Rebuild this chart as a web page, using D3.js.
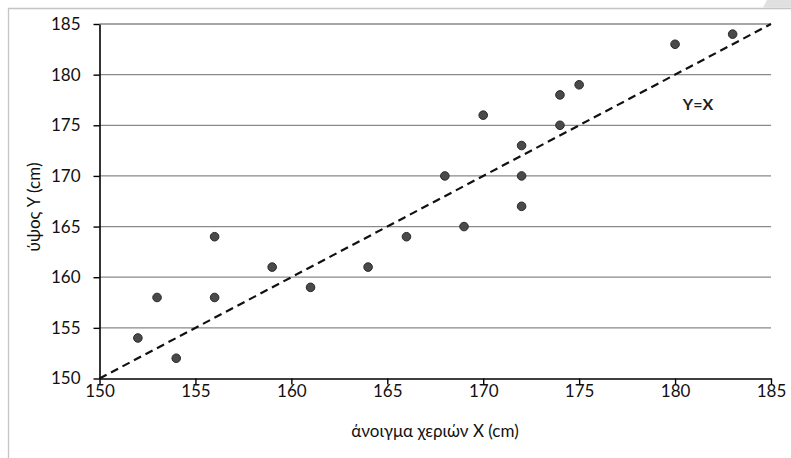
<!DOCTYPE html>
<html><head><meta charset="utf-8">
<script src="https://cdn.jsdelivr.net/npm/d3@7"></script>
<style>body{margin:0;background:#fff}svg{display:block}</style>
</head><body><svg id="c" width="791" height="458"></svg>
<script>
const xValues = [152,153,154,156,156,159,161,164,166,168,169,170,172,172,172,174,174,175,180,183];
const yValues = [154,158,152,164,158,161,159,161,164,170,165,176,173,170,167,178,175,179,183,184];
const tickValues = [150,155,160,165,170,175,180,185];
const xTitle = "άνοιγμα χεριών X (cm)";
const yTitle = "ύψος Y (cm)";
const refLabel = "Y=X";
const refLine = [[150,150],[185,185]];

const svg = d3.select("#c");
const font = "Lato, 'Open Sans', sans-serif";
// frame
svg.append("polygon").attr("points","767,0 791,0 791,7.5 763,7.5").attr("fill","#e0e0e0");
svg.append("path").attr("d","M8.5,458 V8.5 H791").attr("fill","none").attr("stroke","#c4c4c4").attr("stroke-width",1.3);

const x = d3.scaleLinear().domain([150,185]).range([99.5,771]);
const y = d3.scaleLinear().domain([150,185]).range([378.5,24]);

// grid
svg.append("g").selectAll("line").data(tickValues.filter(d=>d>150)).join("line")
  .attr("x1",x(150)).attr("x2",x(185)).attr("y1",d=>y(d)).attr("y2",d=>y(d))
  .attr("stroke","#8a8a8a").attr("stroke-width",1.3);

// axes
const gx = svg.append("g").attr("transform",`translate(0,${y(150)})`)
  .call(d3.axisBottom(x).tickValues(tickValues).tickSize(6).tickPadding(11).tickSizeOuter(0));
const gy = svg.append("g").attr("transform",`translate(${x(150)},0)`)
  .call(d3.axisLeft(y).tickValues(tickValues).tickSize(6).tickPadding(13).tickSizeOuter(0));
[gx,gy].forEach(g=>{
  g.select(".domain").attr("stroke","#000").attr("stroke-width",1.6);
  g.selectAll(".tick line").attr("stroke","#000").attr("stroke-width",1.4);
  g.selectAll("text").attr("font-family",font).attr("font-size",17).attr("fill","#111");
});
gx.selectAll(".tick line").attr("y1",0);
gx.selectAll("text").attr("dy","0.1em");

// reference line
svg.append("path").datum(refLine)
  .attr("d",d3.line().x(d=>x(d[0])).y(d=>y(d[1])))
  .attr("stroke","#111").attr("stroke-width",2.2).attr("stroke-dasharray","8,5").attr("fill","none");

// points
svg.append("g").selectAll("circle").data(xValues.map((v,i)=>[v,yValues[i]])).join("circle")
  .attr("cx",d=>x(d[0])).attr("cy",d=>y(d[1])).attr("r",4.3)
  .attr("fill","#4a4a4a").attr("stroke","#2a2a2a").attr("stroke-width",1);

// labels
svg.append("text").attr("x",698).attr("y",110).attr("text-anchor","middle")
  .attr("font-family",font).attr("font-weight","bold").attr("font-size",16).attr("fill","#222").text(refLabel);
svg.append("text").attr("x",435).attr("y",437).attr("text-anchor","middle")
  .attr("font-family",font).attr("font-size",17).attr("fill","#111").text(xTitle);
svg.append("text").attr("transform","translate(40,207) rotate(-90)").attr("text-anchor","middle")
  .attr("font-family",font).attr("font-size",17).attr("fill","#111").text(yTitle);
</script></body></html>
